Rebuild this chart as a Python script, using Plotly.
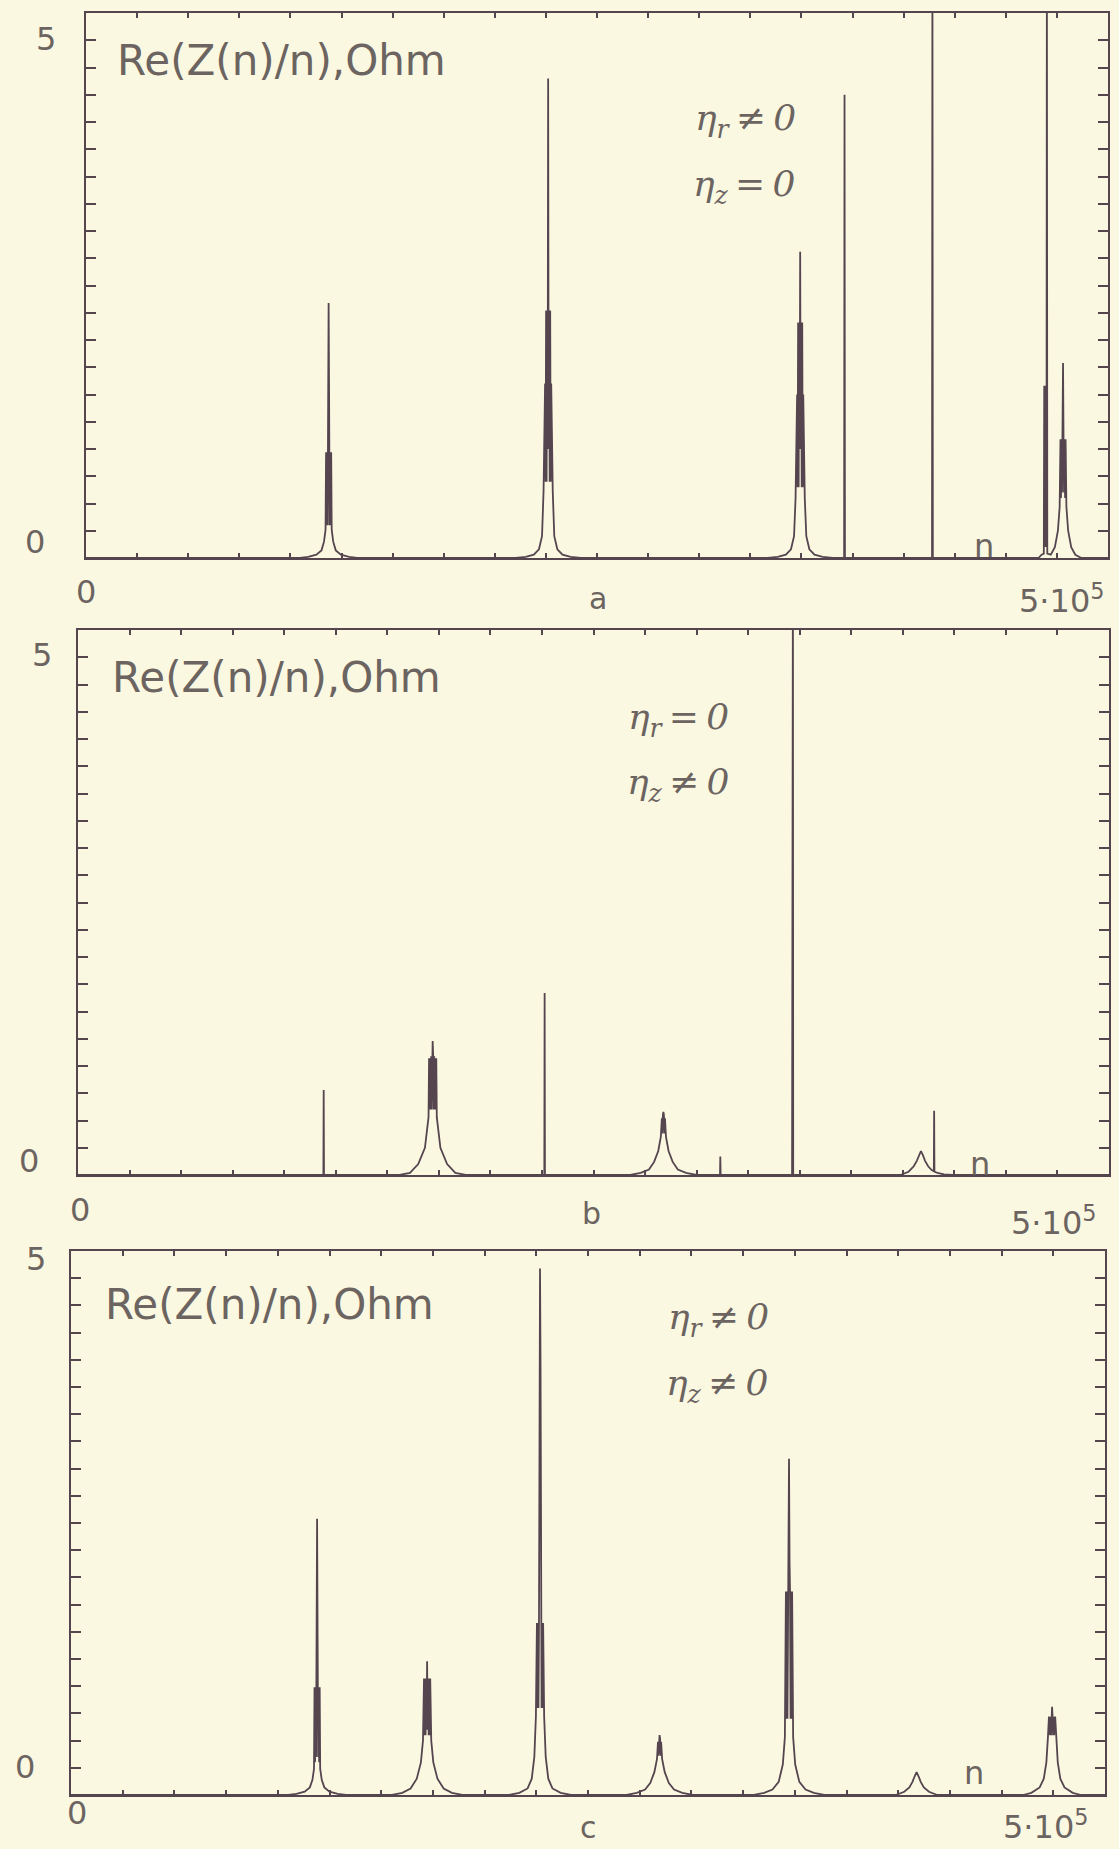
import plotly.graph_objects as go

# ---------------- data (n, Re(Z(n)/n) in Ohm) ----------------
n_a = [0,
       104700, 108700, 112700, 115200, 116450, 117200, 117450, 117700, 117950, 118200, 118450, 118700,
       118950, 119200, 119450, 119700, 119950, 120200, 120950, 122200, 124700, 128700, 132700,
       210100, 215100, 219100, 221600, 223100, 223850, 224600, 224850, 225100, 225350, 225600, 225850, 226100,
       226350, 226600, 226850, 227100, 227350, 227600, 228350, 229100, 230600, 233100, 237100, 242100,
       333400, 338400, 342400, 344900, 346400, 347150, 347900, 348150, 348400, 348650, 348900, 349150, 349400,
       349650, 349900, 350150, 350400, 350650, 350900, 351650, 352400, 353900, 356400, 360400, 365400,
       370900, 371100, 371300,
       413900, 414100, 414300,
       466000, 467500, 468600, 468800, 469100, 469400, 469700, 469950, 470100, 470300,
       472000, 474000, 475500, 476350, 476750, 477000, 477250, 477500, 477750, 478000,
       478250, 478500, 478750, 479000, 479250, 479650, 480500, 482000, 484000, 487000,
       500000]
re_a = [0,
        0, 0.01, 0.03, 0.07, 0.15, 0.26, 0.97, 0.3, 0.97, 0.3, 1.42, 2.34,
        1.42, 0.3, 0.97, 0.3, 0.97, 0.26, 0.15, 0.07, 0.03, 0.01, 0,
        0, 0.01, 0.03, 0.08, 0.2, 0.61, 1.6, 0.7, 2.27, 0.7, 2.27, 1.0, 4.40,
        1.0, 2.27, 0.7, 2.27, 0.7, 1.6, 0.61, 0.2, 0.08, 0.03, 0.01, 0,
        0, 0.01, 0.03, 0.08, 0.2, 0.55, 1.5, 0.65, 2.16, 0.65, 2.16, 1.0, 2.81,
        1.0, 2.16, 0.65, 2.16, 0.65, 1.5, 0.55, 0.2, 0.08, 0.03, 0.01, 0,
        0, 4.25, 0,
        0, 5.6, 0,
        0, 0.03, 0.04, 1.58, 0.1, 1.58, 0.1, 1.58, 5.6, 0.04,
        0.03, 0.1, 0.25, 0.47, 1.09, 0.55, 1.09, 0.6, 1.09, 1.79,
        1.09, 0.6, 1.09, 0.55, 1.09, 0.47, 0.25, 0.1, 0.03, 0,
        0]

n_b = [0,
       119000, 119150, 119300,
       156000, 161000, 165000, 168250, 170000, 170250, 170500, 170750, 171000, 171250, 171500, 171750, 172000,
       172250, 172500, 172750, 173000, 173250, 173500, 173750, 174000, 175750, 179000, 183000, 188000,
       226150, 226300, 226450,
       267900, 272900, 276900, 279400, 281400, 282650, 283150, 283400, 283650, 283900,
       284150, 284400, 284650, 285150, 286400, 288400, 290900, 294900, 299900,
       311350, 311500, 311650,
       346300, 346450, 346600, 346700, 346850,
       398800, 402800, 405300, 406800, 407800, 408800, 409800, 410800, 412300, 414000,
       415050, 415200, 415350, 416800, 420000, 424000,
       500000]
re_b = [0,
        0, 0.78, 0,
        0, 0.02, 0.1, 0.25, 0.53, 1.07, 0.6, 1.07, 0.6, 1.09, 0.6, 1.09, 1.23,
        1.09, 0.6, 1.09, 0.6, 1.07, 0.6, 1.07, 0.53, 0.25, 0.1, 0.02, 0,
        0, 1.67, 0,
        0, 0.02, 0.05, 0.12, 0.22, 0.35, 0.52, 0.38, 0.55, 0.58,
        0.55, 0.38, 0.52, 0.35, 0.22, 0.12, 0.05, 0.02, 0,
        0, 0.17, 0,
        0, 2.47, 0.2, 5.6, 0,
        0, 0.03, 0.08, 0.13, 0.18, 0.22, 0.18, 0.13, 0.08, 0.045,
        0.035, 0.59, 0.03, 0.02, 0.005, 0,
        0]

n_c = [0,
       105000, 109000, 113000, 115500, 116750, 117500, 117750, 118000, 118250, 118500, 118750, 119000,
       119250, 119500, 119750, 120000, 120250, 120500, 121250, 122500, 125000, 129000, 133000,
       155200, 160200, 164200, 167200, 169200, 170200, 170700, 170950, 171200, 171450, 171700, 171950, 172200,
       172450, 172700, 172950, 173200, 173450, 173700, 174200, 175200, 177200, 180200, 184200, 189200,
       211800, 216800, 220800, 222800, 224050, 224800, 225300, 225550, 225800, 226050, 226300, 226550, 226800,
       227050, 227300, 227550, 227800, 228050, 228300, 228800, 229550, 230800, 232800, 236800, 241800,
       268600, 273600, 277600, 280100, 282100, 283350, 283850, 284100, 284350, 284600,
       284850, 285100, 285350, 285850, 287100, 289100, 291600, 295600, 300600,
       330200, 335200, 339200, 342200, 344200, 345200, 345700, 345950, 346200, 346450, 346700, 346950, 347200,
       347450, 347700, 347950, 348200, 348450, 348700, 349200, 350200, 352200, 355200, 359200, 364200,
       398900, 402900, 405400, 406900, 407900, 408900, 409900, 410900, 412400, 414900, 418900,
       460400, 464400, 468400, 470400, 471650, 472400, 472900, 473400, 473650, 473900, 474150, 474400,
       474650, 474900, 475150, 475400, 475900, 476400, 477150, 478400, 480400, 484400, 488400,
       500000]
re_c = [0,
        0, 0.01, 0.03, 0.07, 0.14, 0.24, 0.99, 0.3, 0.99, 0.35, 1.45, 2.54,
        1.45, 0.35, 0.99, 0.3, 0.99, 0.24, 0.14, 0.07, 0.03, 0.01, 0,
        0, 0.02, 0.06, 0.15, 0.3, 0.5, 1.07, 0.55, 1.07, 0.55, 1.07, 0.6, 1.23,
        0.6, 1.07, 0.55, 1.07, 0.55, 1.07, 0.5, 0.3, 0.15, 0.06, 0.02, 0,
        0, 0.02, 0.06, 0.15, 0.35, 0.72, 1.58, 0.8, 1.58, 0.8, 1.58, 3.96, 4.84,
        3.96, 1.58, 0.8, 1.58, 0.8, 1.58, 0.72, 0.35, 0.15, 0.06, 0.02, 0,
        0, 0.02, 0.05, 0.11, 0.21, 0.33, 0.49, 0.36, 0.52, 0.55,
        0.52, 0.36, 0.49, 0.33, 0.21, 0.11, 0.05, 0.02, 0,
        0, 0.02, 0.05, 0.12, 0.28, 0.53, 1.87, 0.7, 1.87, 0.7, 1.87, 2.15, 3.09,
        2.15, 1.87, 0.7, 1.87, 0.7, 1.87, 0.53, 0.28, 0.12, 0.05, 0.02, 0,
        0, 0.03, 0.07, 0.12, 0.17, 0.21, 0.17, 0.12, 0.07, 0.03, 0,
        0, 0.02, 0.07, 0.15, 0.3, 0.53, 0.72, 0.55, 0.72, 0.55, 0.72, 0.81,
        0.72, 0.55, 0.72, 0.55, 0.72, 0.53, 0.3, 0.15, 0.07, 0.02, 0,
        0]

panel_letters = ["a", "b", "c"]
eta_r = ["≠0", "=0", "≠0"]
eta_z = ["=0", "≠0", "≠0"]
y_label = "Re(Z(n)/n),Ohm"
x_max_label = "5·10<sup>5</sup>"

# ---------------- layout constants ----------------
W, H = 1119, 1849
BG = "#fbf8e2"
INK = "#54454f"
TXT = "#6c6460"
SANS = "DejaVu Sans"
SERIF = "DejaVu Serif"

# panel frames in pixels: left, right, top, bottom
frames = [(86, 1108, 13, 558), (78, 1109, 630, 1175), (71, 1105, 1251, 1795)]

fig = go.Figure()
series = [(n_a, re_a), (n_b, re_b), (n_c, re_c)]
for i, (xs, ys) in enumerate(series):
    sfx = "" if i == 0 else str(i + 1)
    fig.add_trace(go.Scatter(x=xs, y=ys, mode="lines", xaxis="x" + sfx, yaxis="y" + sfx,
                             line=dict(color=INK, width=1.8), showlegend=False, hoverinfo="skip"))

def px(x):
    return x / W

def py(y):
    return 1 - y / H

layout = dict(width=W, height=H, margin=dict(l=0, r=0, t=0, b=0),
              paper_bgcolor=BG, plot_bgcolor=BG, showlegend=False)
for i, (l, r, t, b) in enumerate(frames):
    sfx = "" if i == 0 else str(i + 1)
    layout["xaxis" + sfx] = dict(domain=[px(l), px(r)], range=[0, 500000], anchor="y" + sfx,
                                 showticklabels=False, ticks="inside", tick0=0, dtick=25000,
                                 ticklen=5, tickwidth=2, tickcolor=INK, showline=True,
                                 linecolor=INK, linewidth=2, mirror="ticks", showgrid=False,
                                 zeroline=False, fixedrange=True)
    layout["yaxis" + sfx] = dict(domain=[py(b), py(t)], range=[0, 5], anchor="x" + sfx,
                                 showticklabels=False, ticks="inside", tick0=0, dtick=0.25,
                                 ticklen=10, tickwidth=2, tickcolor=INK, showline=True,
                                 linecolor=INK, linewidth=2, mirror="ticks", showgrid=False,
                                 zeroline=False, fixedrange=True)
fig.update_layout(**layout)

anns = []

def ann(text, x, y, size, family=SANS, xanchor="center", style="normal"):
    anns.append(dict(text=text, x=px(x), y=py(y), xref="paper", yref="paper",
                     xanchor=xanchor, yanchor="middle", showarrow=False,
                     font=dict(family=family, size=size, color=TXT, style=style)))

# text positions per panel (pixels)
ylab_pos = [(115, 61), (110, 677), (103, 1304)]
etar_pos = [(745, 120), (678, 719), (718, 1319)]
etaz_pos = [(744, 186), (678, 784), (717, 1385)]
five_pos = [(46, 39), (42, 655), (36, 1259)]
zero_pos = [(35, 542), (29, 1161), (25, 1767)]
x0_pos = [(86, 592), (80, 1210), (77, 1813)]
letter_pos = [(598, 598), (592, 1213), (588, 1827)]
xmax_pos = [(1062, 599), (1054, 1221), (1046, 1825)]
nlab_pos = [(984, 546), (980, 1164), (974, 1773)]

for i in range(3):
    ann(y_label, ylab_pos[i][0], ylab_pos[i][1], 42, xanchor="left")
    ann("η<sub>r</sub>\u2009" + eta_r[i][0] + "\u2009" + eta_r[i][1:], etar_pos[i][0], etar_pos[i][1], 36,
        family=SERIF, style="italic")
    ann("η<sub>z</sub>\u2009" + eta_z[i][0] + "\u2009" + eta_z[i][1:], etaz_pos[i][0], etaz_pos[i][1], 36,
        family=SERIF, style="italic")
    ann("5", five_pos[i][0], five_pos[i][1], 32)
    ann("0", zero_pos[i][0], zero_pos[i][1], 32)
    ann("0", x0_pos[i][0], x0_pos[i][1], 32)
    ann(panel_letters[i], letter_pos[i][0], letter_pos[i][1], 30)
    ann(x_max_label, xmax_pos[i][0], xmax_pos[i][1], 32)
    ann("n", nlab_pos[i][0], nlab_pos[i][1], 32)

fig.update_layout(annotations=anns)
fig.write_html("out.html")
